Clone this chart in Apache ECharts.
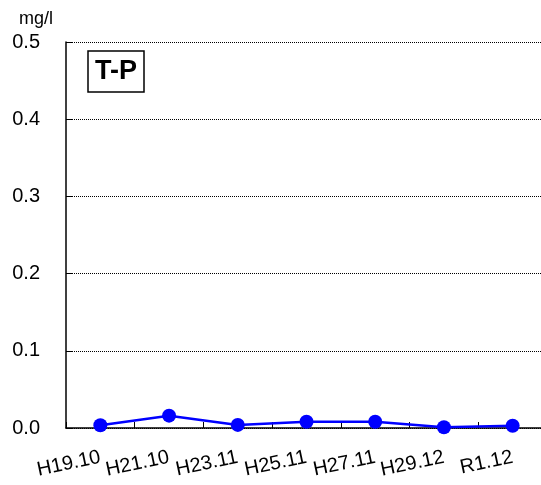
<!DOCTYPE html>
<html><head><meta charset="utf-8">
<script src="https://cdn.jsdelivr.net/npm/echarts@6/dist/echarts.min.js"></script>
<style>html,body{margin:0;padding:0;background:#fff;overflow:hidden}#c{width:547px;height:485px}</style>
</head><body><div id="c"></div>
<script>
const categories = ['H19.10','H21.10','H23.11','H25.11','H27.11','H29.12','R1.12'];
const values = [0.0035, 0.016, 0.004, 0.008, 0.008, 0.001, 0.003];
const yTicks = [0, 0.1, 0.2, 0.3, 0.4, 0.5];

const chart = echarts.init(document.getElementById('c'), null, {renderer:'canvas'});
chart.setOption({
  animation: false,
  backgroundColor: '#fff',
  title: {
    text: 'T-P', left: 88, top: 51,
    padding: [7, 7, 7, 7],
    borderColor: '#000', borderWidth: 1.5,
    textStyle: {fontFamily: 'Liberation Sans', fontWeight: 'bold', fontSize: 27, color: '#000'}
  },
  graphic: [{
    type: 'text', left: 19, top: 10,
    style: {text: 'mg/l', font: '18px "Liberation Sans"', fill: '#000'}
  }],
  grid: {left: 66, right: 0, top: 42, bottom: 57, containLabel: false},
  xAxis: {
    type: 'category', data: categories, boundaryGap: true,
    axisLine: {lineStyle: {color: '#000', width: 1.5}},
    axisTick: {show: true, inside: true, length: 6, alignWithLabel: false, lineStyle: {color: '#000', width: 1}},
    axisLabel: {rotate: 12, margin: 29, fontFamily: 'Liberation Sans', fontSize: 20, color: '#000', interval: 0},
    splitLine: {show: false}
  },
  yAxis: {
    type: 'value', min: 0, max: 0.5, interval: 0.1,
    axisLine: {show: true, lineStyle: {color: '#000', width: 1.5}},
    axisTick: {show: true, inside: true, length: 6, lineStyle: {color: '#000'}},
    axisLabel: {margin: 26, fontFamily: 'Liberation Sans', fontSize: 20, color: '#000',
      formatter: v => yTicks.includes(Math.round(v*10)/10) ? v.toFixed(1) : ''},
    splitLine: {show: true, lineStyle: {color: '#000', type: [1, 1], width: 1}}
  },
  series: [{
    type: 'line', data: values,
    symbol: 'circle', symbolSize: 14,
    lineStyle: {color: '#0000FF', width: 2.5},
    itemStyle: {color: '#0000FF'}
  }]
});
</script></body></html>
